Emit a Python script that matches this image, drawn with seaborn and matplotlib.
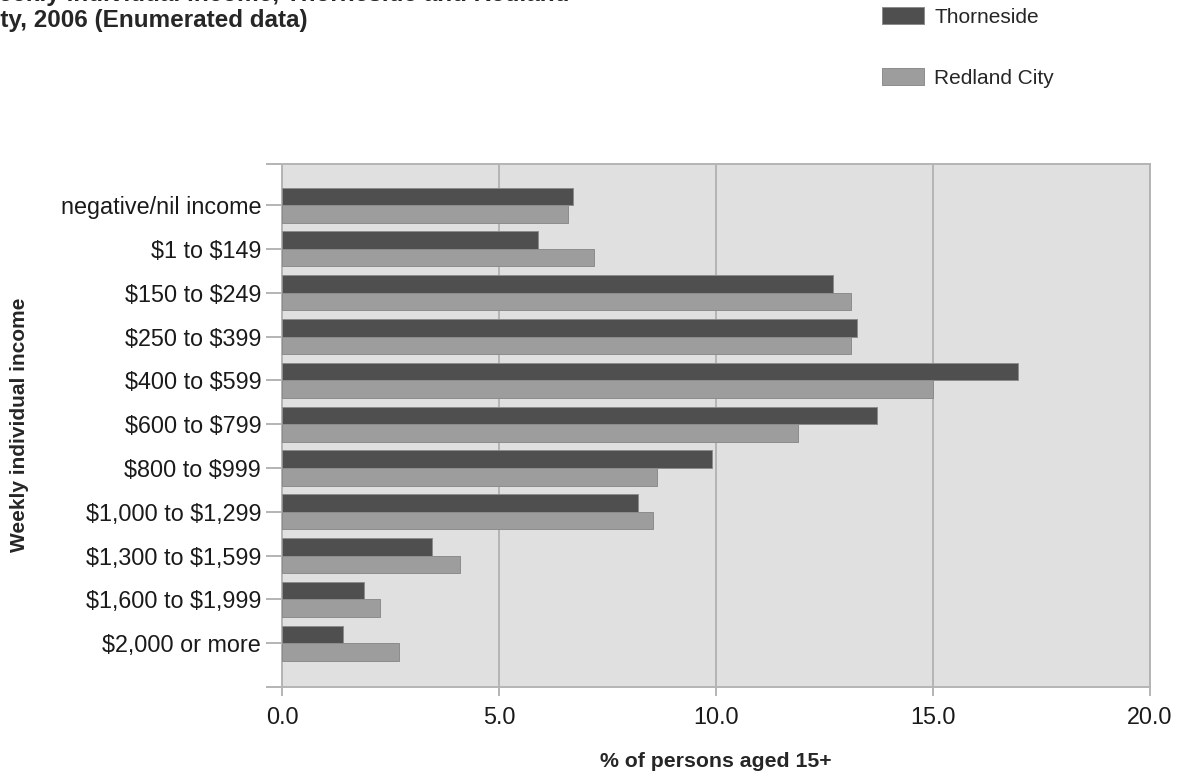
import matplotlib
matplotlib.use("Agg")
import matplotlib.pyplot as plt
import seaborn as sns
import pandas as pd

# Chart data
income_bands = ['negative/nil income', '$1 to $149', '$150 to $249', '$250 to $399',
                '$400 to $599', '$600 to $799', '$800 to $999', '$1,000 to $1,299',
                '$1,300 to $1,599', '$1,600 to $1,999', '$2,000 or more']
areas = ['Thorneside', 'Redland City']
thorneside = [6.7, 5.9, 12.7, 13.25, 16.95, 13.7, 9.9, 8.2, 3.45, 1.9, 1.4]
redland = [6.6, 7.2, 13.1, 13.1, 15.0, 11.9, 8.65, 8.55, 4.1, 2.25, 2.7]
x_ticks = [0.0, 5.0, 10.0, 15.0, 20.0]

# Long-form table for seaborn
df = pd.DataFrame({
    'income': income_bands * 2,
    'pct': thorneside + redland,
    'area': [areas[0]] * len(income_bands) + [areas[1]] * len(income_bands),
})

sns.set_theme(style='white')
plt.rcParams['font.family'] = ['Liberation Sans', 'DejaVu Sans']
plt.rcParams['text.parse_math'] = False  # dollar signs are literal

dark, light, grid_col = '#4f4f4f', '#9d9d9d', '#b4b4b4'

fig = plt.figure(figsize=(11.84, 7.78), dpi=100)
ax = fig.add_axes([282 / 1184, 1 - 687 / 778, 868 / 1184, 523 / 778])
ax.set_facecolor('#e0e0e0')

sns.barplot(data=df, y='income', x='pct', hue='area', hue_order=areas, order=income_bands,
            orient='h', palette=[dark, light], width=0.8, edgecolor='#8c8c8c',
            linewidth=0.7, ax=ax, zorder=3)

ax.set_xlim(0, 20)
ax.set_ylim(11.0, -0.94)
ax.set_xticks(x_ticks)
ax.set_xticklabels([f'{v:.1f}' for v in x_ticks])
ax.set_yticks(range(len(income_bands)))
ax.set_yticklabels(income_bands)
ax.set_yticks([-0.94, 11.0], minor=True)

ax.grid(axis='x', color=grid_col, linewidth=1.4, zorder=0)
ax.grid(axis='y', visible=False)
ax.set_axisbelow(True)
for s in ax.spines.values():
    s.set_color(grid_col)
    s.set_linewidth(1.4)

ax.tick_params(axis='y', which='both', left=True, length=11.5, width=1.4, color=grid_col,
               pad=3.5, labelsize=16.8, labelcolor='#1a1a1a')
ax.tick_params(axis='x', bottom=True, length=6.5, width=1.4, color=grid_col,
               pad=7, labelsize=16.8, labelcolor='#1a1a1a')

ax.set_xlabel('% of persons aged 15+', fontsize=15.3, fontweight='bold', labelpad=17)
ax.set_ylabel('')
fig.text(20 / 1184, 1 - 425 / 778, 'Weekly individual income', rotation=90,
         fontsize=15, fontweight='bold', ha='center', va='center')

# Title, partially cut off at the top-left like the reference
fig.text(-24 / 1184, 1 - 1 / 778, 'Weekly individual income, Thorneside and Redland',
         fontsize=17.5, fontweight='bold', ha='left', va='baseline')
fig.text(-24 / 1184, 1 - 27 / 778, 'City, 2006 (Enumerated data)',
         fontsize=17.5, fontweight='bold', ha='left', va='baseline')

handles, labels = ax.get_legend_handles_labels()
ax.get_legend().remove()
fig.legend(handles, labels, loc='upper left', bbox_to_anchor=(882 / 1184, 1 - 7 / 778),
           frameon=False, fontsize=15, handlelength=2.0, handleheight=0.87,
           handletextpad=0.5, labelspacing=2.0, borderpad=0, borderaxespad=0)

fig.savefig('out.png', dpi=100)
